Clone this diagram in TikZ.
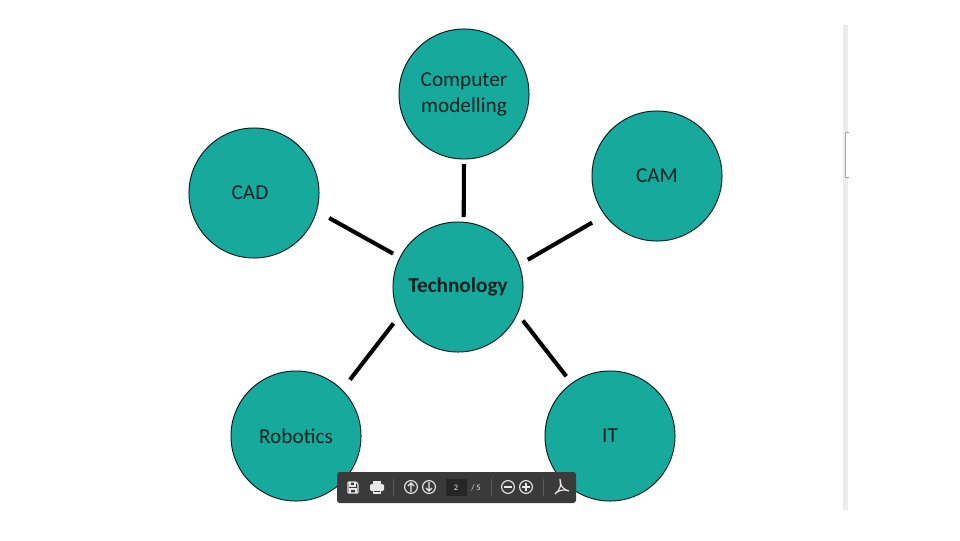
\documentclass[tikz,border=0pt]{standalone}
\usepackage{xcolor}
\usepackage{fontspec}
\setmainfont{Carlito}
\usetikzlibrary{positioning,calc}
\definecolor{bubbleteal}{HTML}{18A99D}
\definecolor{bubbleink}{HTML}{082222}
\definecolor{barback}{HTML}{3A3A3A}
\definecolor{baricon}{HTML}{E8E8E8}
\tikzset{
  bubble/.style={circle, draw=bubbleink, fill=bubbleteal, line width=0.7pt, minimum size=3.25cm,
    inner sep=0pt, outer sep=0pt, align=center, font=\fontsize{15.1}{18.5}\selectfont, text=bubbleink},
  spoke/.style 2 args={line width=2.9pt, black, shorten <=#1*0.025cm, shorten >=#2*0.025cm},
  barline/.style={baricon, line width=0.8pt},
  barround/.style={circle, draw=baricon, line width=0.8pt, minimum size=0.32cm, inner sep=0pt},
  bartext/.style={text=baricon, font=\fontsize{6}{7}\selectfont, inner sep=0pt},
  bardivide/.style={draw=gray!70!black, line width=0.4pt}
}
\begin{document}
\begin{tikzpicture}[x=0.025cm,y=-0.025cm]
    \useasboundingbox (0,0) rectangle (960,540);
    \fill[white] (0,0) rectangle (960,540);

    % bubbles
    \node[bubble] (comp) at (464,94) {\vspace*{0.1cm}Computer\\modelling};
    \node[bubble] (cam) at (657,176) {CAM};
    \node[bubble] (cad) at (254,193) {\hspace*{-0.2cm}CAD};
    \node[bubble, font=\fontsize{15.1}{18.5}\selectfont\bfseries] (tech) at (458,287) {Technology};
    \node[bubble] (rob) at (296,436) {Robotics};
    \node[bubble] (it) at (610,436) {IT};

    % spokes
    \draw[spoke={5}{5}] (tech.85) -- (comp.-90);
    \draw[spoke={10}{15}] (tech.20) -- (cam.217);
    \draw[spoke={8}{14.5}] (tech.153) -- (cad.-16);
    \draw[spoke={10}{13}] (tech.206) -- (rob.45);
    \draw[spoke={9}{9}] (tech.-24) -- (it.126);

    % scroll strip
    \fill[black!8] (843,25) rectangle (848,510);
    \draw[black!35, fill=white, line width=0.4pt] (849,132) -- (845,132) -- (845,177) -- (849,177);

    % toolbar
    \fill[barback, rounded corners=2pt] (337,472) rectangle (576,503);
    \draw[barline, rounded corners=0.5pt] (348,482) -- (356,482) -- (358,484) -- (358,493) -- (348,493) -- cycle;
    \draw[barline] (350,482) -- (350,486) -- (355,486) -- (355,482) (350,493) -- (350,489) -- (356,489) -- (356,493);
    \fill[baricon, rounded corners=1pt] (370,484) rectangle (384,491);
    \fill[baricon] (373,481) rectangle (381,484);
    \fill[baricon] (373,490) rectangle (381,494);
    \draw[barback, line width=0.4pt] (374,491) -- (380,491);
    \draw[bardivide] (393,479) -- (393,496);
    \node[barround] (up) at (411,487) {};
    \draw[barline] (411,492) -- (411,483) (408,486) -- (411,483) -- (414,486);
    \node[barround] (down) at (429,487) {};
    \draw[barline] (429,482) -- (429,491) (426,488) -- (429,491) -- (432,488);
    \fill[black!85] (446,479) rectangle (467,496);
    \node[bartext] (pagenow) at (456,487.5) {2};
    \node[bartext] (pageall) at (476,487.5) {/ 5};
    \draw[bardivide] (491,479) -- (491,496);
    \node[barround] (minus) at (508,487) {};
    \draw[barline] (504,487) -- (512,487);
    \node[barround] (plus) at (526,487) {};
    \draw[barline] (522,487) -- (530,487) (526,483) -- (526,491);
    \draw[bardivide] (543,479) -- (543,496);
    \draw[barline] (555,494) .. controls (560,490) and (562,484) .. (560,479) .. controls (559,484) and (563,490) .. (569,491) .. controls (564,489) and (558,490) .. (555,494);
\end{tikzpicture}
\end{document}
